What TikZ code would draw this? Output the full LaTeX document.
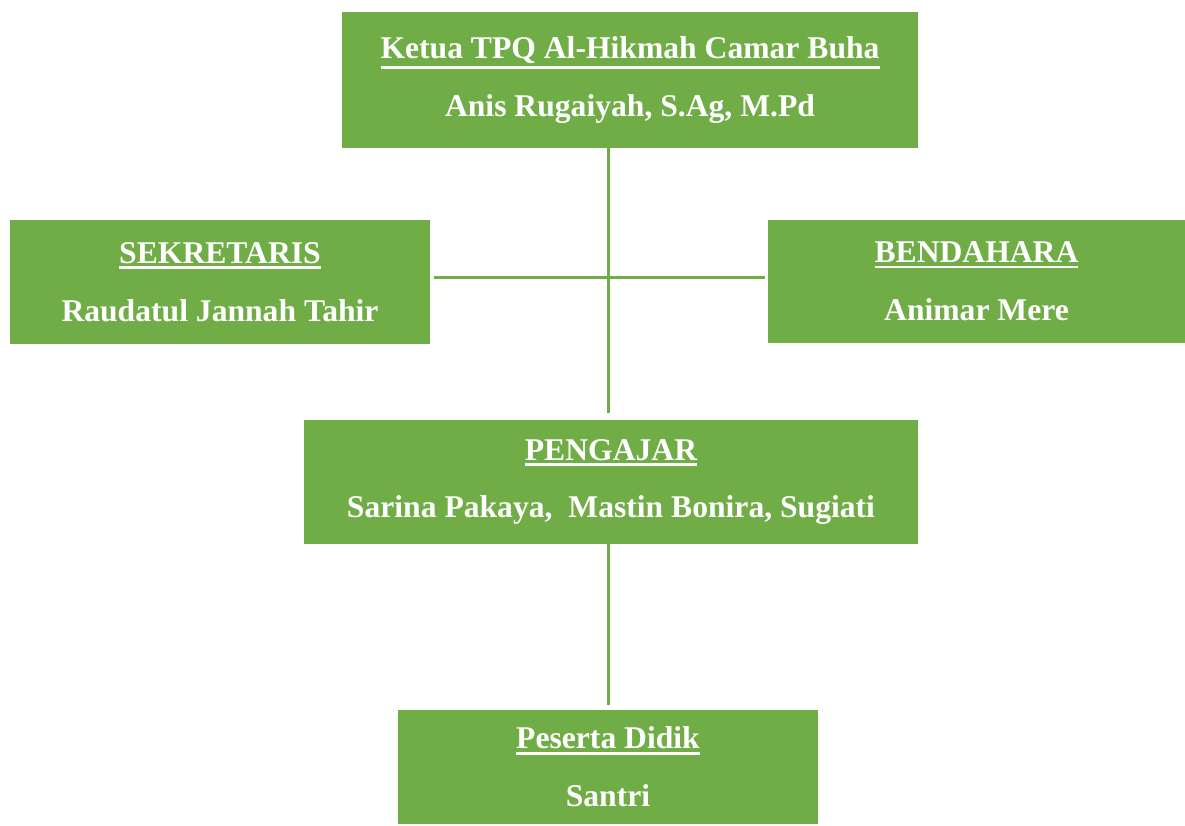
\documentclass[tikz,border=0pt]{standalone}
\usepackage{fontspec}
\setmainfont{Liberation Serif}
\definecolor{boxgreen}{HTML}{70AD47}
\newcommand{\boxhead}[1]{\vtop{\hbox{#1}\kern1.6pt\hrule height 1.5pt}}
\tikzset{
  orgbox/.style={rectangle,fill=boxgreen,text=white,inner sep=0pt,align=center,
    font=\bfseries\fontsize{18}{22}\selectfont},
  orgline/.style={draw=boxgreen,line width=1.7pt}
}
\begin{document}
\begin{tikzpicture}[x=0.02cm,y=-0.02cm]
  \useasboundingbox (0,0) rectangle (1185,825);
  \node[orgbox,minimum width=11.52cm,minimum height=2.72cm] (ketua) at (630,80)
    {\boxhead{Ketua TPQ Al-Hikmah Camar Buha}\\[11pt]Anis Rugaiyah, S.Ag, M.Pd};
  \node[orgbox,minimum width=8.4cm,minimum height=2.48cm] (sekretaris) at (220,282)
    {\boxhead{SEKRETARIS}\\[11pt]Raudatul Jannah Tahir};
  \node[orgbox,minimum width=8.34cm,minimum height=2.46cm] (bendahara) at (976.5,281.5)
    {\boxhead{BENDAHARA}\\[11pt]Animar Mere};
  \node[orgbox,minimum width=12.28cm,minimum height=2.48cm] (pengajar) at (611,482)
    {\boxhead{PENGAJAR}\\[11pt]Sarina Pakaya,\ \ Mastin Bonira, Sugiati};
  \node[orgbox,minimum width=8.4cm,minimum height=2.28cm] (peserta) at (608,767)
    {\boxhead{Peserta Didik}\\[11pt]Santri};
  \coordinate (hub) at (608,277);
  % garis penghubung
  \draw[orgline,shorten >=7*0.02cm] (hub |- ketua.south) -- (hub |- pengajar.north);
  \draw[orgline,shorten <=4*0.02cm,shorten >=3*0.02cm] (sekretaris.east |- hub) -- (bendahara.west |- hub);
  \draw[orgline,shorten >=5*0.02cm] (hub |- pengajar.south) -- (peserta.north);
\end{tikzpicture}
\end{document}
